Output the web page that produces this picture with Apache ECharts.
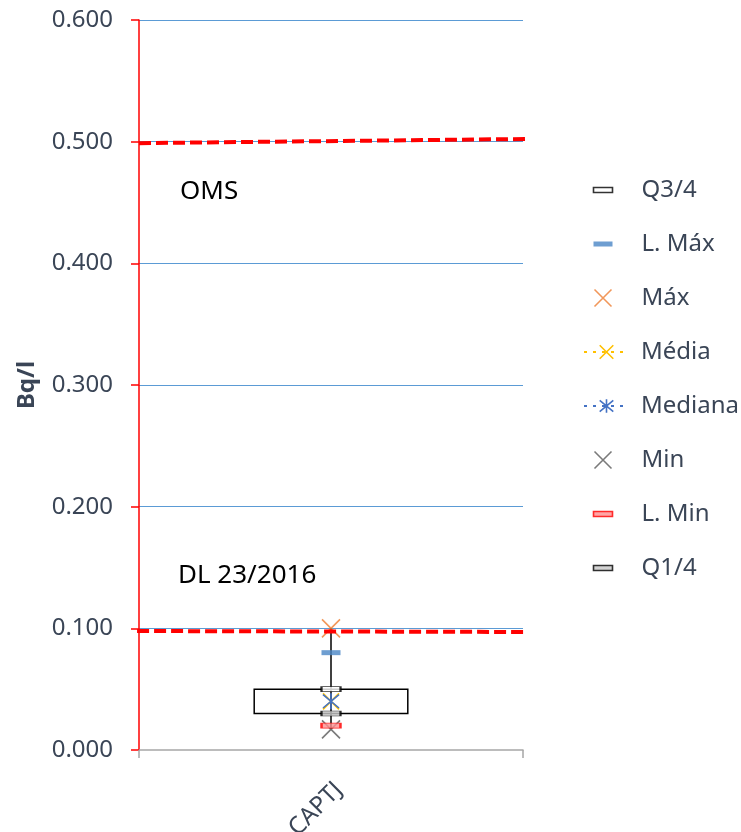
<!DOCTYPE html>
<html>
<head>
<meta charset="utf-8">
<script src="https://cdn.jsdelivr.net/npm/echarts@6.0.0/dist/echarts.min.js"></script>
<style>
  html, body { margin: 0; padding: 0; background: #fff; }
  #chart { width: 741px; height: 832px; }
</style>
</head>
<body>
<div id="chart"></div>
<script>
// values (Bq/l)
const categories = ['CAPTJ'];
const q1Values = [0.030];
const q3Values = [0.050];
const minValues = [0.017];
const maxValues = [0.100];
const limMaxValues = [0.080];
const limMinValues = [0.020];
const mediaValues = [0.040];
const medianaValues = [0.040];
// reference limits, drawn across the whole plot (x from 0 to 1 on a hidden axis)
const omsLine = [[0, 0.4988], [1.01, 0.5022]];
const dlLine = [[-0.005, 0.0978], [1.02, 0.0970]];

const textColor = '#3a4556';
const font = 'Noto Sans';
const crossPath = 'path://M0,0L20,20M20,0L0,20';
const starPath = 'path://M0,0L20,20M20,0L0,20M10,-2L10,22';
const barPath = 'path://M0,0H19V5H0Z';

const chart = echarts.init(document.getElementById('chart'));

const option = {
  animation: false,
  textStyle: { fontFamily: font },
  grid: { left: 139, right: 218, top: 20, bottom: 82, outerBoundsMode: 'none', containLabel: false },
  xAxis: [
    {
      type: 'category',
      data: categories,
      axisLine: { lineStyle: { color: '#a6a6a6', width: 1.5 } },
      axisTick: { show: true, length: 8, interval: 0, lineStyle: { color: '#a6a6a6', width: 1.5 } },
      axisLabel: { rotate: 45, fontSize: 24, color: textColor, margin: 44, padding: [0, -11, 0, 0], fontFamily: font }
    },
    {
      type: 'value', min: 0, max: 1, show: false,
      axisLine: { show: false }, splitLine: { show: false }, axisTick: { show: false }
    }
  ],
  yAxis: {
    type: 'value',
    min: 0,
    max: 0.6,
    interval: 0.1,
    name: 'Bq/l',
    nameLocation: 'middle',
    nameGap: 100,
    nameTextStyle: { fontSize: 24, fontWeight: 'bold', color: textColor, fontFamily: font },
    axisLine: { show: true, onZero: false, lineStyle: { color: '#ff0000', width: 1.5 } },
    axisTick: { show: true, length: 8, lineStyle: { color: '#ff0000', width: 1.5 } },
    axisLabel: {
      fontSize: 24, color: textColor, margin: 26, fontFamily: font,
      formatter: v => v.toFixed(3)
    },
    splitLine: {
      lineStyle: { color: ['transparent', '#5b9bd5', '#5b9bd5', '#5b9bd5', '#5b9bd5', '#5b9bd5', '#5b9bd5'], width: 1 }
    }
  },
  legend: [
    {
      orient: 'vertical', left: 592, top: 175, padding: 0, itemGap: 24,
      itemWidth: 19, itemHeight: 17, selectedMode: false,
      itemStyle: { borderWidth: 1.6 },
      textStyle: { fontSize: 24, color: textColor, lineHeight: 30, padding: [0, 0, 0, 24], fontFamily: font },
      data: [
        { name: 'Q3/4', icon: barPath },
        { name: 'L. Máx', icon: barPath },
        { name: 'Máx' }
      ]
    },
    {
      orient: 'vertical', left: 583, top: 337, padding: 0, itemGap: 24,
      itemWidth: 45, itemHeight: 17, selectedMode: false,
      itemStyle: { borderWidth: 1.6 },
      textStyle: { fontSize: 24, color: textColor, lineHeight: 30, padding: [0, 0, 0, 7], fontFamily: font },
      data: ['Média', 'Mediana']
    },
    {
      orient: 'vertical', left: 592, top: 445, padding: 0, itemGap: 24,
      itemWidth: 19, itemHeight: 17, selectedMode: false,
      itemStyle: { borderWidth: 1.6 },
      textStyle: { fontSize: 24, color: textColor, lineHeight: 30, padding: [0, 0, 0, 24], fontFamily: font },
      data: [
        { name: 'Min' },
        { name: 'L. Min', icon: barPath },
        { name: 'Q1/4', icon: barPath }
      ]
    }
  ],
  graphic: [
    { type: 'text', left: 180, top: 179, style: { text: 'OMS', font: '26px "Noto Sans"', fill: '#000' } },
    { type: 'text', left: 178, top: 563, style: { text: 'DL 23/2016', font: '26px "Noto Sans"', fill: '#000' } }
  ],
  series: [
    {
      name: 'box',
      type: 'custom',
      data: categories.map((c, i) => [i, minValues[i], q1Values[i], q3Values[i], maxValues[i]]),
      encode: { x: 0, y: [1, 2, 3, 4] },
      renderItem: (params, api) => {
        const x = api.value(0);
        const pMin = api.coord([x, api.value(1)]);
        const pQ1 = api.coord([x, api.value(2)]);
        const pQ3 = api.coord([x, api.value(3)]);
        const pMax = api.coord([x, api.value(4)]);
        const w = api.size([1, 0])[0] * 0.4;
        return {
          type: 'group',
          children: [
            {
              type: 'rect',
              shape: { x: pQ3[0] - w / 2, y: pQ3[1], width: w, height: pQ1[1] - pQ3[1] },
              style: { fill: '#fff', stroke: '#000', lineWidth: 1.5 }
            },
            {
              type: 'line',
              shape: { x1: pMax[0], y1: pMax[1], x2: pMin[0], y2: pMin[1] },
              style: { stroke: '#000', lineWidth: 1.5 }
            }
          ]
        };
      }
    },
    {
      name: 'Q3/4', type: 'scatter', data: q3Values,
      symbol: 'rect', symbolSize: [19, 5],
      itemStyle: { color: '#ffffff', borderColor: '#000', borderWidth: 1.2 }
    },
    {
      name: 'L. Máx', type: 'scatter', data: limMaxValues,
      symbol: 'rect', symbolSize: [19, 5],
      itemStyle: { color: '#4a86c5' }
    },
    {
      name: 'Máx', type: 'scatter', data: maxValues,
      symbol: crossPath, symbolSize: 18,
      itemStyle: { color: 'none', borderColor: '#ed7d31', borderWidth: 1.6 }
    },
    {
      name: 'Média', type: 'line', data: mediaValues,
      symbol: crossPath, symbolSize: 16,
      itemStyle: { color: 'none', borderColor: '#ffc000', borderWidth: 1.6 },
      lineStyle: { color: '#ffc000', width: 3, type: [3, 6] }
    },
    {
      name: 'Mediana', type: 'line', data: medianaValues,
      symbol: starPath, symbolSize: 16,
      itemStyle: { color: 'none', borderColor: '#4472c4', borderWidth: 1.6 },
      lineStyle: { color: '#4472c4', width: 3, type: [3, 6] }
    },
    {
      name: 'Min', type: 'scatter', data: minValues,
      symbol: crossPath, symbolSize: 18,
      itemStyle: { color: 'none', borderColor: '#595959', borderWidth: 1.6 }
    },
    {
      name: 'L. Min', type: 'scatter', data: limMinValues,
      symbol: 'rect', symbolSize: [19, 5],
      itemStyle: { color: '#ff9090', borderColor: '#ff0000', borderWidth: 1.3 }
    },
    {
      name: 'Q1/4', type: 'scatter', data: q1Values,
      symbol: 'rect', symbolSize: [19, 5],
      itemStyle: { color: '#c8c8c8', borderColor: '#000', borderWidth: 1.2 }
    },
    {
      name: 'OMS', type: 'line', xAxisIndex: 1, data: omsLine,
      symbol: 'none', clip: false, silent: true,
      lineStyle: { color: '#ff0000', width: 4, type: [12, 5] }
    },
    {
      name: 'DL 23/2016', type: 'line', xAxisIndex: 1, data: dlLine,
      symbol: 'none', clip: false, silent: true,
      lineStyle: { color: '#ff0000', width: 4, type: [12, 5] }
    }
  ]
};

chart.setOption(option);
</script>
</body>
</html>
